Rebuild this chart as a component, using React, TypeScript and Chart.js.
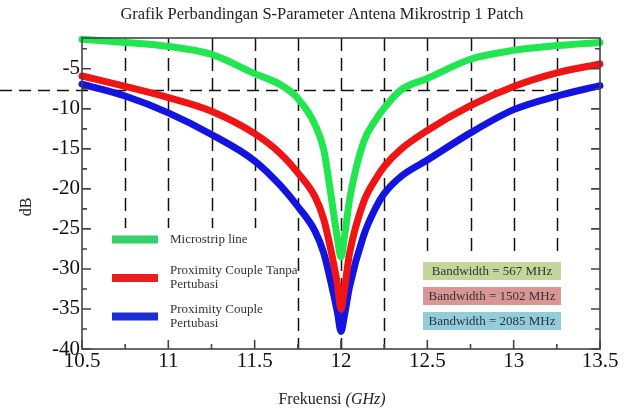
import React, { useEffect, useRef } from "react";
import { Chart, registerables } from "chart.js";

Chart.register(...registerables);

const freq = [10.5, 10.75, 11.0, 11.25, 11.5, 11.65, 11.75, 11.85, 11.9, 11.94, 11.98, 12.0, 12.02, 12.05, 12.13, 12.2, 12.25, 12.35, 12.5, 12.75, 13.0, 13.25, 13.5];
const microstrip = [-1.3, -1.7, -2.2, -3.2, -5.6, -7.0, -8.7, -12.0, -15.1, -20.5, -26.3, -28.5, -26.0, -21.3, -14.2, -11.4, -9.9, -7.6, -6.2, -3.8, -2.7, -2.1, -1.7];
const tanpaPertubasi = [-5.9, -7.2, -8.6, -10.3, -13.1, -15.6, -18.0, -21.0, -23.8, -27.5, -32.0, -35.0, -32.5, -28.0, -21.7, -18.8, -17.2, -15.0, -12.7, -9.6, -7.2, -5.5, -4.4];
const pertubasi = [-6.9, -8.4, -10.5, -13.2, -16.5, -19.6, -22.2, -25.3, -28.0, -31.5, -35.5, -37.8, -35.8, -32.2, -25.9, -22.4, -20.6, -18.4, -16.4, -13.0, -10.1, -8.4, -7.1];

const seriesNames = ["Microstrip line", "Proximity Couple Tanpa\nPertubasi", "Proximity Couple\nPertubasi"];
const bandwidthLabels = ["Bandwidth = 567 MHz", "Bandwidth = 1502 MHz", "Bandwidth = 2085 MHz"];

const xTicks = [10.5, 11, 11.5, 12, 12.5, 13, 13.5];
const xMinorTicks = [10.75, 11.25, 11.75, 12.25, 12.75, 13.25];
const gridFreqs = [10.75, 11, 11.25, 11.5, 11.75, 12, 12.25, 12.5, 12.75, 13, 13.25];
const yTicks = [-40, -35, -30, -25, -20, -15, -10, -5];
const yMinorTicks = [-37.5, -32.5, -27.5, -22.5, -17.5, -12.5, -7.5, -2.5];
const yMin = -40;
const yMax = -1.15;
const threshold = -7.6;
const thresholdEnd = 13.25;

const FONT = '"Liberation Serif", "Times New Roman", serif';
const lineColors = ["#22e650", "#f01414", "#1414e0"];
const legendColors = ["#35d06a", "#ee1c1c", "#1a2fd0"];
const boxColors = ["#c4d79b", "#da9694", "#92cddc"];

const overlayPlugin = {
  id: "overlay",
  beforeDatasetsDraw(chart: any) {
    const { ctx, chartArea, scales } = chart;
    const xs = scales.x;
    const ys = scales.y;
    ctx.save();
    ctx.strokeStyle = "#111";
    ctx.lineWidth = 1.5;
    ctx.setLineDash([13, 7]);
    gridFreqs.forEach((v) => {
      const px = Math.round(xs.getPixelForValue(v)) + 0.5;
      ctx.beginPath();
      ctx.moveTo(px, chartArea.top);
      ctx.lineTo(px, chartArea.bottom);
      ctx.stroke();
    });
    const ty = Math.round(ys.getPixelForValue(threshold)) + 0.5;
    ctx.setLineDash([12, 7]);
    ctx.beginPath();
    ctx.moveTo(0, ty);
    ctx.lineTo(xs.getPixelForValue(thresholdEnd), ty);
    ctx.stroke();
    ctx.setLineDash([]);
    ctx.fillStyle = "#fff";
    ctx.fillRect(90, 228, 200, chartArea.bottom - 228);
    ctx.fillRect(415, 255, 152, chartArea.bottom - 255);
    ctx.restore();
  },
  afterDatasetsDraw(chart: any) {
    const { ctx, chartArea, scales } = chart;
    const xs = scales.x;
    const ys = scales.y;
    const { left, right, top, bottom } = chartArea;
    ctx.save();
    ctx.strokeStyle = "#444";
    ctx.lineWidth = 1.6;
    ctx.strokeRect(left, top, right - left, bottom - top);
    ctx.beginPath();
    yTicks.forEach((v) => {
      const py = ys.getPixelForValue(v);
      ctx.moveTo(left, py); ctx.lineTo(left + 9, py);
      ctx.moveTo(right, py); ctx.lineTo(right - 9, py);
    });
    yMinorTicks.forEach((v) => {
      const py = ys.getPixelForValue(v);
      ctx.moveTo(left, py); ctx.lineTo(left + 5, py);
      ctx.moveTo(right, py); ctx.lineTo(right - 5, py);
    });
    xTicks.forEach((v) => {
      const px = xs.getPixelForValue(v);
      ctx.moveTo(px, bottom); ctx.lineTo(px, bottom - 9);
    });
    xMinorTicks.forEach((v) => {
      const px = xs.getPixelForValue(v);
      ctx.moveTo(px, bottom); ctx.lineTo(px, bottom - 5);
    });
    ctx.stroke();

    const legendY = [239.5, 278, 316.5];
    seriesNames.forEach((name, i) => {
      ctx.fillStyle = legendColors[i];
      ctx.fillRect(112, legendY[i] - 4, 46, 8);
      ctx.fillStyle = "#333";
      ctx.font = `13px ${FONT}`;
      ctx.textAlign = "left";
      ctx.textBaseline = "middle";
      const lines = name.split("\n");
      if (lines.length === 1) {
        ctx.fillText(lines[0], 170, legendY[i]);
      } else {
        ctx.fillText(lines[0], 170, legendY[i] - 7);
        ctx.fillText(lines[1], 170, legendY[i] + 7);
      }
    });

    const boxTop = [262, 287, 312];
    bandwidthLabels.forEach((label, i) => {
      ctx.fillStyle = boxColors[i];
      ctx.fillRect(423, boxTop[i], 138, 18);
      ctx.fillStyle = "#333";
      ctx.font = `13px ${FONT}`;
      ctx.textAlign = "center";
      ctx.textBaseline = "middle";
      ctx.fillText(label, 492, boxTop[i] + 9.5);
    });

    ctx.fillStyle = "#222";
    ctx.font = `16.5px ${FONT}`;
    ctx.textAlign = "center";
    ctx.textBaseline = "middle";
    ctx.fillText("Grafik Perbandingan S-Parameter Antena Mikrostrip 1 Patch", 322, 15);

    ctx.save();
    ctx.translate(27, 207);
    ctx.rotate(-Math.PI / 2);
    ctx.font = `16px ${FONT}`;
    ctx.fillText("dB", 0, 0);
    ctx.restore();

    ctx.font = `16px ${FONT}`;
    const a = "Frekuensi ";
    const wa = ctx.measureText(a).width;
    ctx.font = `italic 16px ${FONT}`;
    const b = "(GHz)";
    const wb = ctx.measureText(b).width;
    const sx = 332 - (wa + wb) / 2;
    ctx.textAlign = "left";
    ctx.font = `16px ${FONT}`;
    ctx.fillText(a, sx, 400);
    ctx.font = `italic 16px ${FONT}`;
    ctx.fillText(b, sx + wa, 400);
    ctx.restore();
  },
};

export default function App() {
  const ref = useRef<HTMLCanvasElement | null>(null);
  useEffect(() => {
    if (!ref.current) return;
    const mk = (values: number[], i: number) => ({
      label: seriesNames[i],
      data: freq.map((f, k) => ({ x: f, y: values[k] })),
      borderColor: lineColors[i],
      backgroundColor: lineColors[i],
      borderWidth: 7,
      pointRadius: 0,
      fill: false,
      cubicInterpolationMode: "monotone" as const,
      borderCapStyle: "round" as const,
      borderJoinStyle: "round" as const,
      clip: false as const,
    });
    const chart = new Chart(ref.current, {
      type: "line",
      data: {
        datasets: [mk(microstrip, 0), mk(tanpaPertubasi, 1), mk(pertubasi, 2)],
      },
      options: {
        responsive: false,
        animation: false,
        layout: { padding: { top: 38, right: 28, left: 0, bottom: 0 } },
        plugins: { legend: { display: false }, tooltip: { enabled: false }, title: { display: false } },
        scales: {
          x: {
            type: "linear",
            min: 10.5,
            max: 13.5,
            afterBuildTicks: (s: any) => { s.ticks = xTicks.map((v) => ({ value: v })); },
            afterFit: (s: any) => { s.height = 63; },
            grid: { display: false, drawTicks: false },
            border: { display: false },
            ticks: {
              font: { family: FONT, size: 21 },
              color: "#111",
              padding: 0,
              maxRotation: 0,
              autoSkip: false,
              callback: (v: any) => String(v),
            },
          },
          y: {
            type: "linear",
            min: yMin,
            max: yMax,
            afterBuildTicks: (s: any) => { s.ticks = yTicks.map((v) => ({ value: v })); },
            afterFit: (s: any) => { s.width = 82; },
            grid: { display: false, drawTicks: false },
            border: { display: false },
            ticks: {
              font: { family: FONT, size: 21 },
              color: "#111",
              padding: 2,
              autoSkip: false,
              callback: (v: any) => String(v),
            },
          },
        },
      },
      plugins: [overlayPlugin],
    });
    return () => chart.destroy();
  }, []);
  return (
    <div style={{ position: "fixed", left: 0, top: 0, width: 628, height: 412, background: "#fff" }}>
      <canvas ref={ref} width={628} height={412} style={{ width: 628, height: 412 }} />
    </div>
  );
}
